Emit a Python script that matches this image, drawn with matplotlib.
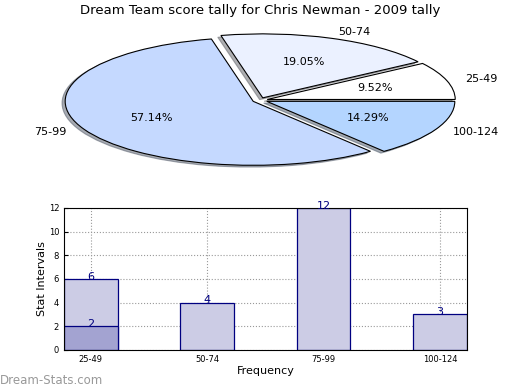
import numpy as np
import matplotlib
matplotlib.use('Agg')
import matplotlib.pyplot as plt

# score intervals and how often each came up
intervals = ['25-49', '50-74', '75-99', '100-124']
counts = [2, 4, 12, 3]
# the extra (background) bar on the first interval
first_total = 6
slice_colors = ['#ffffff', '#ebf1ff', '#c5d9ff', '#b4d5ff']
explode = [0.04, 0.04, 0.04, 0.04]

fig = plt.figure(figsize=(5.2, 3.9), dpi=100)

# pie on top
ax1 = fig.add_axes([0.048, 0.538, 0.904, 0.41])
ax1.pie(counts, labels=intervals, colors=slice_colors, explode=explode,
        autopct='%1.2f%%', startangle=0,
        shadow={'ox': -0.012, 'oy': -0.02, 'shade': 0.6},
        wedgeprops={'edgecolor': 'black', 'linewidth': 0.8},
        textprops={'fontsize': 8})
ax1.set_aspect('auto')
fig.text(0.5, 0.972, 'Dream Team score tally for Chris Newman - 2009 tally',
         ha='center', va='center', fontsize=9.5)

# bars below
ax2 = fig.add_axes([0.123, 0.103, 0.775, 0.364])
x = np.arange(len(intervals))
w = 0.46
ax2.bar(x[0], first_total, w, color='#ccccE5', edgecolor='navy', linewidth=0.9)
ax2.bar(x, counts, w, color=['#a3a3d1', '#ccccE5', '#ccccE5', '#ccccE5'],
        edgecolor='navy', linewidth=0.9)
# value labels sit just on top of each bar
ax2.annotate(str(first_total), (x[0], first_total), xytext=(0, 1.5),
             textcoords='offset points', ha='center', va='center',
             color='navy', fontsize=8)
for xi, c in zip(x, counts):
    ax2.annotate(str(c), (xi, c), xytext=(0, 1.5), textcoords='offset points',
                 ha='center', va='center', color='navy', fontsize=8)

ax2.set_xlim(-0.23, 3.23)
ax2.set_ylim(0, 12)
ax2.set_yticks(range(0, 13, 2))
ax2.set_xticks(x)
ax2.set_xticklabels(intervals)
ax2.tick_params(labelsize=6, direction='in', length=3)
ax2.grid(True, linestyle=':', color='#999999', linewidth=0.8)
ax2.set_axisbelow(True)
ax2.set_xlabel('Frequency', fontsize=8, labelpad=2)
ax2.set_ylabel('Stat Intervals', fontsize=8, labelpad=1)

fig.text(0.0, 0.015, 'Dream-Stats.com', color='#999999', fontsize=8.5)

fig.savefig('out.png', dpi=100)
